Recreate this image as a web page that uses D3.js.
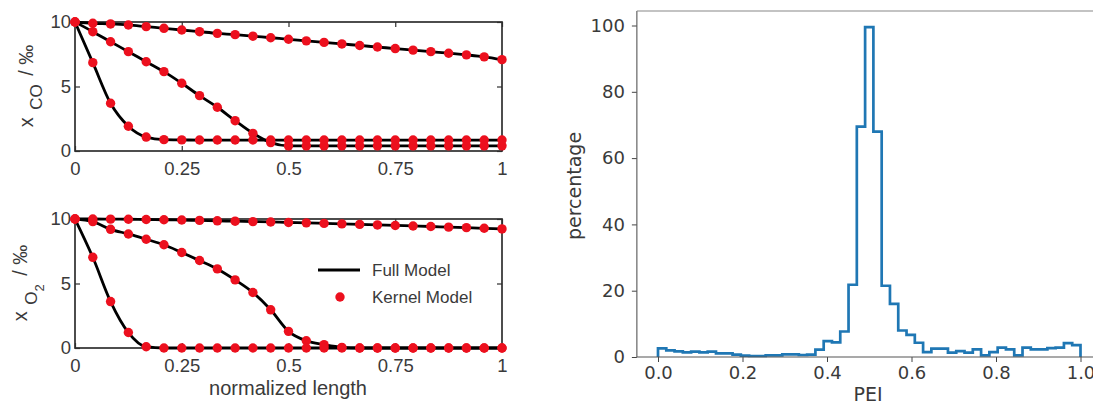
<!DOCTYPE html>
<html><head><meta charset="utf-8">
<script src="https://cdn.jsdelivr.net/npm/d3@7/dist/d3.min.js"></script>
<style>body{margin:0;background:#fff}svg{display:block}</style>
</head><body>
<svg id="c" width="1093" height="405"></svg>
<script>
// ---------- data ----------
const lengthPos = [0,0.0417,0.0833,0.125,0.1667,0.2083,0.25,0.2917,0.3333,0.375,0.4167,0.4583,0.5,0.5417,0.5833,0.625,0.6667,0.7083,0.75,0.7917,0.8333,0.875,0.9167,0.9583,1];
const coSlow = [10,9.9,9.85,9.77,9.64,9.51,9.38,9.25,9.12,9.02,8.9,8.78,8.66,8.54,8.42,8.3,8.18,8.06,7.94,7.82,7.7,7.58,7.45,7.3,7.08];
const coMid  = [10,9.25,8.47,7.7,6.92,6.15,5.25,4.29,3.39,2.35,1.37,0.65,0.4,0.4,0.4,0.4,0.4,0.4,0.4,0.4,0.4,0.4,0.4,0.4,0.4];
const coFast = [10,6.85,3.7,1.92,1.08,0.88,0.86,0.85,0.85,0.85,0.85,0.85,0.85,0.85,0.85,0.85,0.85,0.85,0.85,0.85,0.85,0.85,0.85,0.85,0.85];
const o2Slow = [10,10,9.99,9.98,9.96,9.94,9.92,9.89,9.86,9.83,9.8,9.77,9.73,9.7,9.66,9.62,9.58,9.54,9.5,9.46,9.42,9.37,9.33,9.28,9.23];
const o2Mid  = [10,9.8,9.2,8.84,8.43,8.0,7.4,6.78,6.13,5.28,4.3,2.96,1.29,0.56,0.26,0.05,0,0,0,0,0,0,0,0,0];
const o2Fast = [10,7.03,3.6,1.2,0.1,0,0,0,0,0,0,0,0,0,0,0,0,0,0,0,0,0,0,0,0];
const lengthTicks = [0,0.25,0.5,0.75,1];
const fracTicks = [0,5,10];
const legendLabels = ["Full Model","Kernel Model"];

const peiBinCount = 51;
const peiPercent = [2.6,2.0,1.7,1.4,1.6,1.4,1.6,1.1,1.1,0.7,0.4,0.3,0.3,0.5,0.5,0.8,0.8,0.6,0.7,2.2,4.8,4.4,7.7,
  21.8,69.5,99.5,68.0,
  21.5,16,8,6.7,4.3,1.5,2.5,2.5,1.3,1.8,1.3,2.3,0.5,1.5,2.8,2.3,0.5,2.8,2.3,2.3,2.7,2.8,4.2,3.6];
const peiTicks = [0,0.2,0.4,0.6,0.8,1.0];
const pctTicks = [0,20,40,60,80,100];

// ---------- drawing ----------
const svg = d3.select("#c");
const AX = "#2e2e2e", TXT = "#3a3a3a", RED = "#ec101e";
const LFONT = "'Liberation Sans', Arial, Helvetica, sans-serif";
const PFONT = "'DejaVu Sans', sans-serif";

const xL = d3.scaleLinear().domain([0,1]).range([75,502]);

function panel(y0, y1, series) {
  const y = d3.scaleLinear().domain([0,10]).range([y1,y0]);
  const g = svg.append("g");
  const fmt = d => String(d);
  const gb = g.append("g").attr("transform",`translate(0,${y1})`)
    .call(d3.axisBottom(xL).tickValues(lengthTicks).tickFormat(fmt).tickSizeInner(-5).tickSizeOuter(0).tickPadding(11));
  const gt = g.append("g").attr("transform",`translate(0,${y0})`)
    .call(d3.axisTop(xL).tickValues(lengthTicks).tickFormat("").tickSizeInner(-5).tickSizeOuter(0));
  const gl = g.append("g").attr("transform",`translate(${xL(0)},0)`)
    .call(d3.axisLeft(y).tickValues(fracTicks).tickFormat(fmt).tickSizeInner(-5).tickSizeOuter(0).tickPadding(4));
  const gr = g.append("g").attr("transform",`translate(${xL(1)},0)`)
    .call(d3.axisRight(y).tickValues(fracTicks).tickFormat("").tickSizeInner(-5).tickSizeOuter(0));
  [gb,gt,gl,gr].forEach(a=>{
    a.select(".domain").remove();
    a.selectAll("line").attr("stroke",AX).attr("stroke-width",1.2);
    a.selectAll("text").attr("fill",TXT).style("font-family",LFONT).style("font-size","18.5px");
  });
  g.append("rect").attr("x",xL(0)).attr("y",y0).attr("width",xL(1)-xL(0)).attr("height",y1-y0)
    .attr("fill","none").attr("stroke",AX).attr("stroke-width",1.7);
  const line = d3.line().x((d,i)=>xL(lengthPos[i])).y(d=>y(d)).curve(d3.curveMonotoneX);
  series.forEach(s=>{
    g.append("path").attr("d",line(s)).attr("fill","none").attr("stroke","#000").attr("stroke-width",2.8);
  });
  series.forEach(s=>{
    g.selectAll(null).data(s).enter().append("circle")
      .attr("cx",(d,i)=>xL(lengthPos[i])).attr("cy",d=>y(d)).attr("r",4.7).attr("fill",RED);
  });
  return y;
}

panel(22,151,[coSlow,coMid,coFast]);
panel(219,348,[o2Slow,o2Mid,o2Fast]);

// y labels (rotated)
const yl1 = svg.append("text").attr("transform","translate(33,86) rotate(-90)")
  .attr("text-anchor","middle").attr("fill",TXT).style("font-family",LFONT).style("font-size","20px");
yl1.append("tspan").text("x ");
yl1.append("tspan").attr("dy",9).attr("dx",2).style("font-size","17px").text("CO");
yl1.append("tspan").attr("dy",-9).attr("dx",3).text(" / ‰");

const yl2 = svg.append("text").attr("transform","translate(27,283) rotate(-90)")
  .attr("text-anchor","middle").attr("fill",TXT).style("font-family",LFONT).style("font-size","20px");
yl2.append("tspan").text("x ");
yl2.append("tspan").attr("dy",10).attr("dx",1).style("font-size","17px").text("O");
yl2.append("tspan").attr("dy",7).style("font-size","13px").text("2");
yl2.append("tspan").attr("dy",-17).attr("dx",3).text(" / ‰");

svg.append("text").attr("x",288).attr("y",395).attr("text-anchor","middle").attr("fill",TXT)
  .style("font-family",LFONT).style("font-size","20px").text("normalized length");

// legend
svg.append("line").attr("x1",318).attr("x2",360).attr("y1",270).attr("y2",270).attr("stroke","#000").attr("stroke-width",2.8);
svg.append("circle").attr("cx",340).attr("cy",297).attr("r",4.7).attr("fill",RED);
svg.selectAll(".lg").data(legendLabels).enter().append("text")
  .attr("x",372).attr("y",(d,i)=>i===0?270:297).attr("dy","0.35em").attr("fill",TXT)
  .style("font-family",LFONT).style("font-size","17px").text(d=>d);

// ---------- histogram ----------
const xR = d3.scaleLinear().domain([0,1]).range([658,1080.5]);
const yR = d3.scaleLinear().domain([0,100]).range([357,25.5]);
const bw = 1/peiBinCount;
const pts = [[0,0]];
peiPercent.forEach((v,i)=>{ pts.push([i*bw,v]); pts.push([(i+1)*bw,v]); });
pts.push([1,0]);
svg.append("path").attr("d",d3.line().x(d=>xR(d[0])).y(d=>yR(d[1]))(pts))
  .attr("fill","none").attr("stroke","#1f77b4").attr("stroke-width",2.7).attr("stroke-linejoin","miter");

const spineLeft = xR(-0.05), spineTop = 11;
const ax = svg.append("g").attr("transform",`translate(0,${yR(0)})`)
  .call(d3.axisBottom(xR).tickValues(peiTicks).tickFormat(d3.format(".1f")).tickSizeInner(5).tickSizeOuter(0).tickPadding(4));
const ay = svg.append("g").attr("transform",`translate(${spineLeft},0)`)
  .call(d3.axisLeft(yR).tickValues(pctTicks).tickFormat(d3.format("d")).tickSizeInner(5).tickSizeOuter(0).tickPadding(7));
[ax,ay].forEach(a=>{
  a.select(".domain").remove();
  a.selectAll("line").attr("stroke","#444").attr("stroke-width",1);
  a.selectAll("text").attr("fill",TXT).style("font-family",PFONT).style("font-size","18px");
});
// spines
svg.append("line").attr("x1",spineLeft).attr("x2",spineLeft).attr("y1",spineTop).attr("y2",yR(0)).attr("stroke","#555").attr("stroke-width",1.1);
svg.append("line").attr("x1",spineLeft).attr("x2",1093).attr("y1",yR(0)).attr("y2",yR(0)).attr("stroke","#555").attr("stroke-width",1.1);
svg.append("line").attr("x1",spineLeft).attr("x2",1093).attr("y1",spineTop).attr("y2",spineTop).attr("stroke","#888").attr("stroke-width",1.1);

svg.append("text").attr("transform","translate(581,186) rotate(-90)").attr("text-anchor","middle")
  .attr("fill",TXT).style("font-family",PFONT).style("font-size","19px").text("percentage");
svg.append("text").attr("x",868).attr("y",401).attr("text-anchor","middle")
  .attr("fill",TXT).style("font-family",PFONT).style("font-size","19px").text("PEI");
</script>
</body></html>
